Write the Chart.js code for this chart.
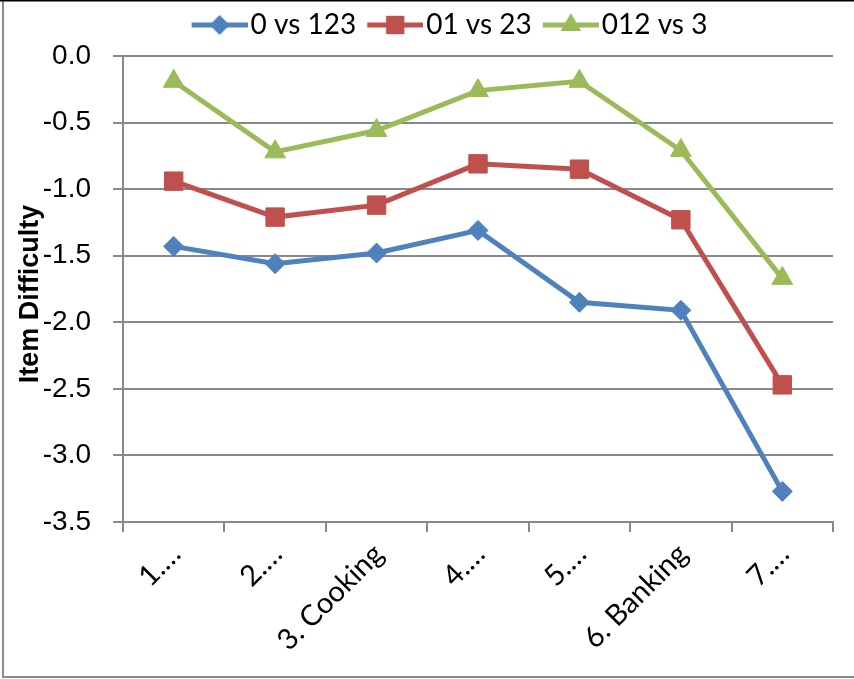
<!DOCTYPE html>
<html>
<head>
<meta charset="utf-8">
<title>Item Difficulty</title>
<script src="https://cdn.jsdelivr.net/npm/chart.js@4/dist/chart.umd.min.js"></script>
<style>
  html, body { margin: 0; padding: 0; background: #ffffff; }
  #wrap { width: 854px; height: 679px; position: relative; }
</style>
</head>
<body>
<div id="wrap"><canvas id="chart" width="854" height="679"></canvas></div>
<script>
// Categories (abbreviated item labels as shown on the axis)
const categories = ['1.…', '2.…', '3. Cooking', '4.…', '5.…', '6. Banking', '7.…'];

// Threshold series: item difficulty per category
const seriesNames = ['0 vs 123', '01 vs 23', '012 vs 3'];
const values0vs123 = [-1.43, -1.56, -1.48, -1.31, -1.85, -1.91, -3.27];
const values01vs23 = [-0.94, -1.21, -1.12, -0.81, -0.85, -1.23, -2.47];
const values012vs3 = [-0.19, -0.72, -0.56, -0.26, -0.19, -0.71, -1.67];

// Y-axis range and tick step
const yMin = -3.5;
const yMax = 0.0;
const yStep = 0.5;
const yTitle = 'Item Difficulty';

const colors = ['#4F81BD', '#C0504D', '#9BBB59'];
const shapes = ['rectRot', 'rect', 'triangle'];
const radii = [10, 13, 12];

// Legend glyph: a short line with the series marker in its middle
function legendGlyph(color, shape, r) {
  const c = document.createElement('canvas');
  c.width = 69; c.height = 30;
  const g = c.getContext('2d');
  g.strokeStyle = color; g.lineWidth = 5;
  g.beginPath(); g.moveTo(13, 15); g.lineTo(69, 15); g.stroke();
  g.fillStyle = color;
  const cx = 41, cy = 15;
  g.beginPath();
  if (shape === 'rectRot') {
    g.moveTo(cx, cy - r); g.lineTo(cx + r, cy); g.lineTo(cx, cy + r); g.lineTo(cx - r, cy);
  } else if (shape === 'rect') {
    const s = r * Math.SQRT1_2;
    g.rect(cx - s, cy - s, 2 * s, 2 * s);
  } else {
    for (let k = 0; k < 3; k++) {
      const a = k * 2 * Math.PI / 3;
      const px = cx + Math.sin(a) * r, py = cy - Math.cos(a) * r;
      if (k === 0) g.moveTo(px, py); else g.lineTo(px, py);
    }
  }
  g.closePath(); g.fill();
  return c;
}
const glyphs = colors.map((c, i) => legendGlyph(c, shapes[i], radii[i]));

const seriesValues = [values0vs123, values01vs23, values012vs3];
const datasets = seriesNames.map((name, i) => ({
  label: name,
  data: seriesValues[i],
  borderColor: colors[i],
  backgroundColor: colors[i],
  borderWidth: 5,
  tension: 0,
  pointStyle: shapes[i],
  pointRadius: radii[i],
  pointHoverRadius: radii[i],
  pointBackgroundColor: colors[i],
  pointBorderColor: colors[i],
  pointBorderWidth: 1,
  fill: false
}));

const gridColor = '#898989';
const legendShift = 32;

// Extra space under the legend, legend offset, frame lines and the rotated y title
const chartDecor = {
  id: 'chartDecor',
  beforeLayout(chart) {
    const lg = chart.legend;
    if (lg && !lg._extraGap) {
      const fit = lg.fit;
      lg.fit = function () { fit.call(this); this.height += 7; };
      lg._extraGap = true;
    }
  },
  afterLayout(chart) {
    const lg = chart.legend;
    if (lg) { lg.left += legendShift; lg.right += legendShift; }
  },
  afterDraw(chart) {
    const ctx = chart.ctx;
    ctx.save();
    // outer frame
    ctx.strokeStyle = '#8c8c8c';
    ctx.lineWidth = 2;
    ctx.beginPath();
    ctx.moveTo(3, 0); ctx.lineTo(3, 677); ctx.lineTo(854, 677);
    ctx.stroke();
    ctx.strokeStyle = '#000000';
    ctx.lineWidth = 1.5;
    ctx.beginPath(); ctx.moveTo(0, 0.75); ctx.lineTo(854, 0.75); ctx.stroke();
    // y-axis title
    ctx.translate(31, 294);
    ctx.rotate(-Math.PI / 2);
    ctx.fillStyle = '#000000';
    ctx.font = 'bold 27px "Liberation Sans", Arial, sans-serif';
    ctx.textAlign = 'center';
    ctx.textBaseline = 'middle';
    ctx.fillText(yTitle, 0, 0);
    ctx.restore();
  }
};

new Chart(document.getElementById('chart'), {
  type: 'line',
  data: { labels: categories, datasets },
  plugins: [chartDecor],
  options: {
    responsive: false,
    animation: false,
    devicePixelRatio: 1,
    layout: { padding: { top: 2, left: 0, right: 21, bottom: 0 } },
    plugins: {
      tooltip: { enabled: false },
      legend: {
        display: true,
        position: 'top',
        labels: {
          usePointStyle: true,
          pointStyleWidth: 47,
          padding: 9,
          color: '#000000',
          font: { family: 'Lato, "Open Sans", sans-serif', size: 28 },
          generateLabels(chart) {
            const items = Chart.defaults.plugins.legend.labels.generateLabels(chart);
            items.forEach((it, i) => { it.pointStyle = glyphs[i]; });
            return items;
          }
        }
      }
    },
    scales: {
      x: {
        type: 'category',
        offset: true,
        afterFit(scale) { scale.height = 157; },
        grid: {
          display: true,
          offset: true,
          drawOnChartArea: false,
          drawTicks: true,
          tickLength: 10,
          color: gridColor,
          lineWidth: 2
        },
        border: { display: true, color: gridColor, width: 2 },
        ticks: {
          autoSkip: false,
          minRotation: 45,
          maxRotation: 45,
          labelOffset: 2,
          padding: 5,
          color: '#000000',
          font: { family: 'Lato, "Open Sans", sans-serif', size: 29 }
        }
      },
      y: {
        min: yMin,
        max: yMax,
        afterFit(scale) { scale.width = 123; },
        grid: {
          display: true,
          drawTicks: true,
          tickLength: 10,
          color: gridColor,
          lineWidth: 2
        },
        border: { display: true, color: gridColor, width: 2 },
        ticks: {
          stepSize: yStep,
          padding: 22,
          color: '#000000',
          font: { family: '"Liberation Sans", Arial, sans-serif', size: 28 },
          callback: (v) => Number(v).toFixed(1)
        }
      }
    }
  }
});
</script>
</body>
</html>
